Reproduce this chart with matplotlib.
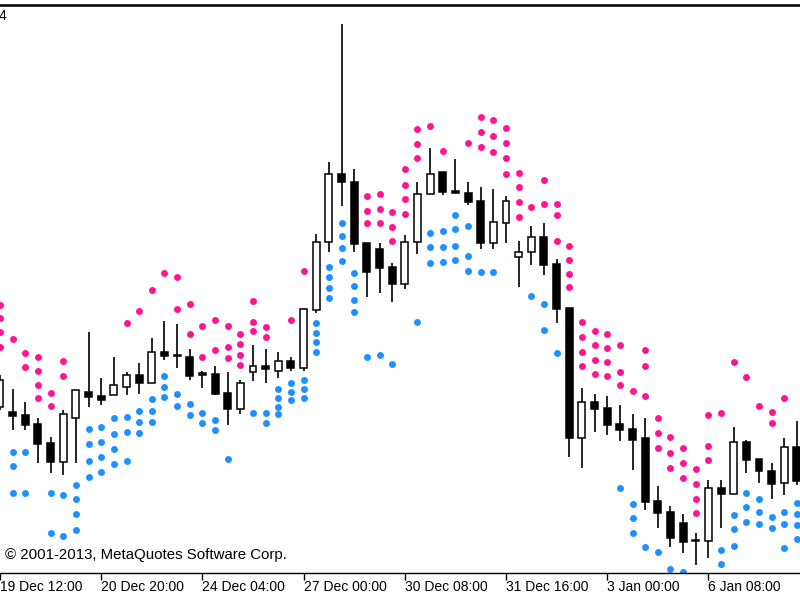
import matplotlib
matplotlib.use('Agg')
import matplotlib.pyplot as plt
from matplotlib.transforms import offset_copy

plt.rcParams['font.family'] = ['Liberation Sans', 'DejaVu Sans']

# H4 bars, 19 Dec 12:00 onwards (OHLC)
opens = [1.3510, 1.3505, 1.3502, 1.3493, 1.3474, 1.3455, 1.3499, 1.3525, 1.3521, 1.3522,
         1.3530, 1.3542, 1.3534, 1.3565, 1.3562, 1.3560, 1.3544, 1.3543, 1.3524, 1.3508,
         1.3545, 1.3551, 1.3546, 1.3556, 1.3549, 1.3607, 1.3675, 1.3743, 1.3735, 1.3674,
         1.3668, 1.3650, 1.3633, 1.3675, 1.3723, 1.3745, 1.3726, 1.3724, 1.3716, 1.3674,
         1.3694, 1.3660, 1.3665, 1.3680, 1.3653, 1.3609, 1.3479, 1.3515, 1.3509, 1.3493,
         1.3488, 1.3479, 1.3416, 1.3405, 1.3394, 1.3377, 1.3376, 1.3429, 1.3423, 1.3475,
         1.3458, 1.3446, 1.3434, 1.3470]
highs = [1.3542, 1.3528, 1.3515, 1.3499, 1.3480, 1.3507, 1.3527, 1.3585, 1.3539, 1.3560,
         1.3545, 1.3554, 1.3579, 1.3596, 1.3593, 1.3568, 1.3546, 1.3551, 1.3545, 1.3537,
         1.3572, 1.3568, 1.3565, 1.3560, 1.3609, 1.3683, 1.3755, 1.3893, 1.3748, 1.3674,
         1.3674, 1.3654, 1.3682, 1.3735, 1.3769, 1.3745, 1.3758, 1.3735, 1.3730, 1.3728,
         1.3721, 1.3676, 1.3691, 1.3694, 1.3658, 1.3609, 1.3529, 1.3523, 1.3521, 1.3512,
         1.3503, 1.3499, 1.3431, 1.3411, 1.3403, 1.3384, 1.3437, 1.3437, 1.3490, 1.3477,
         1.3458, 1.3454, 1.3479, 1.3496]
lows = [1.3507, 1.3487, 1.3487, 1.3454, 1.3444, 1.3442, 1.3454, 1.3510, 1.3512, 1.3522,
        1.3522, 1.3523, 1.3534, 1.3557, 1.3549, 1.3537, 1.3529, 1.3522, 1.3492, 1.3503,
        1.3536, 1.3534, 1.3539, 1.3546, 1.3546, 1.3604, 1.3665, 1.3711, 1.3665, 1.3620,
        1.3624, 1.3615, 1.3628, 1.3663, 1.3723, 1.3722, 1.3724, 1.3712, 1.3668, 1.3668,
        1.3674, 1.3630, 1.3652, 1.3642, 1.3594, 1.3460, 1.3449, 1.3485, 1.3482, 1.3476,
        1.3447, 1.3407, 1.3389, 1.3370, 1.3364, 1.3352, 1.3359, 1.3389, 1.3423, 1.3444,
        1.3434, 1.3418, 1.3422, 1.3432]
closes = [1.3537, 1.3501, 1.3492, 1.3473, 1.3455, 1.3503, 1.3527, 1.3520, 1.3517, 1.3532,
          1.3542, 1.3534, 1.3565, 1.3561, 1.3561, 1.3541, 1.3542, 1.3523, 1.3508, 1.3534,
          1.3551, 1.3548, 1.3556, 1.3549, 1.3608, 1.3675, 1.3743, 1.3735, 1.3673, 1.3645,
          1.3649, 1.3633, 1.3675, 1.3723, 1.3743, 1.3725, 1.3724, 1.3715, 1.3674, 1.3695,
          1.3716, 1.3665, 1.3680, 1.3652, 1.3608, 1.3479, 1.3515, 1.3508, 1.3492, 1.3487,
          1.3477, 1.3415, 1.3404, 1.3379, 1.3375, 1.3376, 1.3429, 1.3423, 1.3475, 1.3457,
          1.3446, 1.3433, 1.3470, 1.3436]

# indicator levels drawn as dots (above price / below price)
upper_dots = [[1.3612, 1.3599, 1.3585, 1.3570], [1.3578], [1.3564, 1.3550],
              [1.3560, 1.3546, 1.3532, 1.3519], [1.3524, 1.3511], [1.3556, 1.3541],
              [], [], [], [], [1.3594], [1.3606], [1.3627], [1.3644], [1.3640, 1.3608],
              [1.3613, 1.3583], [1.3591, 1.3560], [1.3597, 1.3567], [1.3591, 1.3570, 1.3559],
              [1.3583, 1.3573, 1.3562, 1.3552], [1.3616, 1.3595, 1.3586], [1.3590, 1.3580],
              [], [1.3597], [1.3646], [], [], [], [],
              [1.3721, 1.3706, 1.3694], [1.3723, 1.3708, 1.3694], [1.3705, 1.3690, 1.3676],
              [1.3748, 1.3732, 1.3718, 1.3703], [1.3788, 1.3773, 1.3759], [1.3791], [1.3766],
              [], [1.3774], [1.3800, 1.3785, 1.3770], [1.3797, 1.3781, 1.3765],
              [1.3789, 1.3774, 1.3759, 1.3743], [1.3744, 1.3730, 1.3715, 1.3700], [1.3710],
              [1.3737, 1.3713], [1.3713, 1.3702, 1.3676], [1.3671, 1.3657, 1.3643, 1.3630],
              [1.3595, 1.3580, 1.3565, 1.3551], [1.3586, 1.3572, 1.3557, 1.3543],
              [1.3583, 1.3569, 1.3555, 1.3541], [1.3572, 1.3545, 1.3532], [1.3526],
              [1.3567, 1.3551, 1.3521], [1.3499, 1.3484, 1.3469], [1.3480, 1.3464, 1.3449],
              [1.3469, 1.3454, 1.3439], [1.3448, 1.3433, 1.3418, 1.3404],
              [1.3502, 1.3471, 1.3457], [1.3504], [1.3555], [1.3540], [1.3511],
              [1.3505, 1.3494], [1.3519], []]
lower_dots = [[], [1.3465, 1.3451, 1.3424], [1.3465, 1.3424], [], [1.3424, 1.3384],
              [1.3422, 1.3381], [1.3432, 1.3418, 1.3403, 1.3387],
              [1.3488, 1.3473, 1.3456, 1.3440], [1.3490, 1.3475, 1.3460, 1.3445],
              [1.3499, 1.3483, 1.3468, 1.3453], [1.3500, 1.3485, 1.3456],
              [1.3506, 1.3495, 1.3484], [1.3518, 1.3506, 1.3495], [1.3541, 1.3530, 1.3520],
              [1.3523, 1.3511], [1.3513, 1.3502], [1.3504, 1.3494], [1.3497, 1.3487],
              [1.3458], [], [1.3504], [1.3504, 1.3494], [1.3528, 1.3519, 1.3510, 1.3503],
              [1.3534, 1.3525, 1.3517], [1.3537, 1.3528, 1.3519],
              [1.3594, 1.3584, 1.3575, 1.3565], [1.3650, 1.3640, 1.3629, 1.3619],
              [1.3694, 1.3681, 1.3669, 1.3656], [1.3644, 1.3631, 1.3617, 1.3605],
              [1.3560], [1.3562], [1.3553], [], [1.3595], [1.3684, 1.3670, 1.3654],
              [1.3686, 1.3670, 1.3655], [1.3702, 1.3688, 1.3671, 1.3657],
              [1.3691, 1.3661, 1.3646], [1.3645], [1.3645], [], [], [1.3621],
              [1.3613, 1.3587], [1.3564], [], [], [], [], [1.3429],
              [1.3413, 1.3399, 1.3384], [1.3370], [1.3365], [1.3348], [1.3345], [], [],
              [1.3367, 1.3353], [1.3402, 1.3388, 1.3371], [1.3424, 1.3410, 1.3395],
              [1.3418, 1.3405, 1.3393], [1.3400, 1.3389], [1.3405, 1.3393, 1.3369],
              [1.3414, 1.3403, 1.3392, 1.3378]]

tick_labels = ['19 Dec 12:00', '20 Dec 20:00', '24 Dec 04:00', '27 Dec 00:00',
               '30 Dec 08:00', '31 Dec 16:00', '3 Jan 00:00', '6 Jan 08:00']
tick_step = 8

PINK = '#FF1493'
BLUE = '#1E90FF'

fig = plt.figure(figsize=(8, 6), dpi=100)
fig.patch.set_facecolor('white')
ax = fig.add_axes([0, 27 / 600, 1, 568 / 600])
ax.set_facecolor('white')

n = len(opens)
x = list(range(n))

# dots
for i in x:
    if upper_dots[i]:
        ax.scatter([i] * len(upper_dots[i]), upper_dots[i], s=25, color=PINK,
                   linewidths=0, zorder=2)
    if lower_dots[i]:
        ax.scatter([i] * len(lower_dots[i]), lower_dots[i], s=25, color=BLUE,
                   linewidths=0, zorder=2)

# candles
ax.vlines(x, lows, highs, color='black', linewidth=1.2, zorder=3)
for i in x:
    o, c = opens[i], closes[i]
    face = 'white' if c > o else 'black'
    bottom = min(o, c)
    height = max(abs(c - o), 0.00005)
    ax.bar(i, height, bottom=bottom, width=0.55, color=face,
           edgecolor='black', linewidth=1.1, zorder=4)

ax.set_xlim(0.244, 63.24)
ax.set_ylim(1.3344, 1.3912)

for side in ['left', 'right']:
    ax.spines[side].set_visible(False)
ax.spines['top'].set_linewidth(1.8)
ax.spines['bottom'].set_linewidth(1.0)

tick_pos = [k * tick_step for k in range(len(tick_labels))]
ax.set_xticks(tick_pos)
ax.set_xticklabels([])
ax.tick_params(axis='x', direction='out', length=5, width=1, color='black')
ax.set_yticks([])

lab_tr = offset_copy(ax.get_xaxis_transform(), fig=fig, x=0, y=-14, units='dots')
for p, lab in zip(tick_pos, tick_labels):
    ax.text(p, 0, lab, transform=lab_tr, ha='left', va='center', fontsize=10,
            color='black', clip_on=False)

fig.text(5 / 800, 1 - 555 / 600, '\u00a9 2001-2013, MetaQuotes Software Corp.',
         ha='left', va='center', fontsize=10.8, color='black')
fig.text(-1 / 800, 1 - 16 / 600, '4', ha='left', va='center', fontsize=10, color='black')

fig.savefig('out.png', dpi=100)
plt.close(fig)
